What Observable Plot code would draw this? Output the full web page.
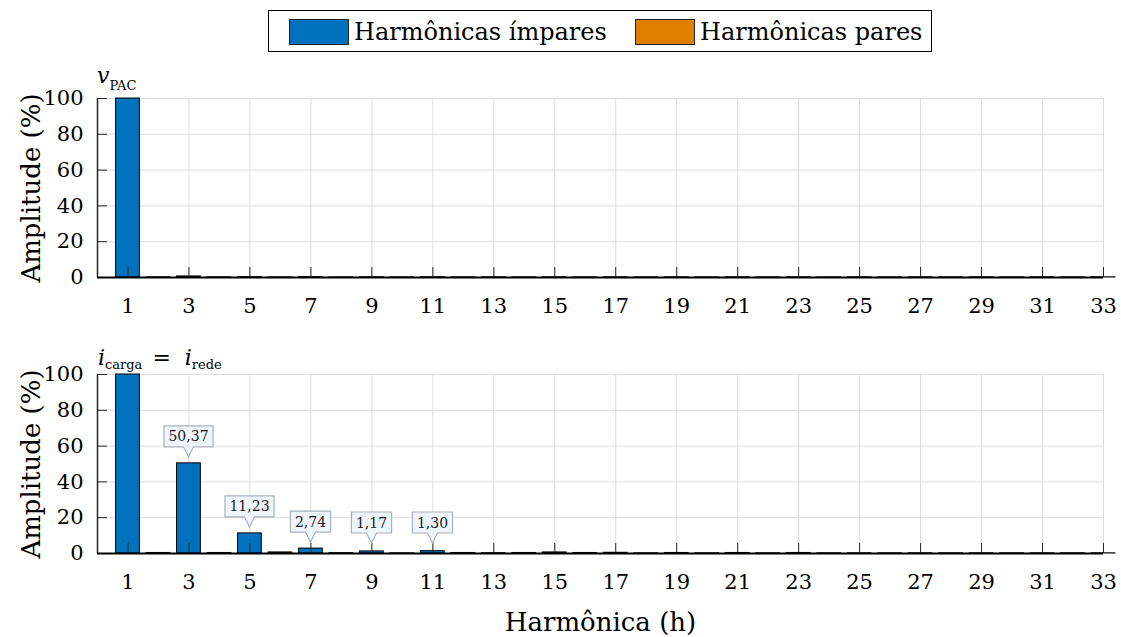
<!DOCTYPE html>
<html>
<head>
<meta charset="utf-8">
<script src="https://cdn.jsdelivr.net/npm/d3@7"></script>
<script src="https://cdn.jsdelivr.net/npm/@observablehq/plot@0.6"></script>
<style>
  html, body { margin: 0; padding: 0; background: #fff; }
  #chart { position: relative; width: 1121px; height: 637px; font-family: "DejaVu Serif", serif; }
  #chart svg { position: absolute; left: 0; overflow: visible; }
  #legend { position: absolute; left: 268px; top: 10px; width: 662px; height: 40px; border: 1px solid #000; background: #fff; font-size: 24px; }
  #legend .sw { position: absolute; top: 8px; width: 58px; height: 24px; border: 1px solid #222; }
  #legend .lb { position: absolute; top: 6px; line-height: 30px; white-space: nowrap; }
</style>
</head>
<body>
<div id="chart">
  <div id="legend">
    <div class="sw" id="sw-odd" style="left:20px"></div>
    <div class="lb" id="lb-odd" style="left:85px"></div>
    <div class="sw" id="sw-even" style="left:366px"></div>
    <div class="lb" id="lb-even" style="left:431px"></div>
  </div>
</div>
<script>
// Harmonic orders shown on the x axis
const harmonics = [1, 2, 3, 4, 5, 6, 7, 8, 9, 10, 11, 12, 13, 14, 15, 16, 17,
                   18, 19, 20, 21, 22, 23, 24, 25, 26, 27, 28, 29, 30, 31, 32, 33];
const xTicks = [1, 3, 5, 7, 9, 11, 13, 15, 17, 19, 21, 23, 25, 27, 29, 31, 33];
const yTicks = [0, 20, 40, 60, 80, 100];

// Harmonic spectrum of the PCC voltage (% of fundamental)
const vPacAmp = [100, 0.1, 0.6, 0.1, 0.2, 0.05, 0.2, 0.05, 0.15, 0.05, 0.15,
                 0.05, 0.1, 0.05, 0.1, 0.05, 0.1, 0.05, 0.1, 0.05, 0.1, 0.05,
                 0.1, 0.05, 0.1, 0.05, 0.1, 0.05, 0.1, 0.05, 0.1, 0.05, 0.1];

// Harmonic spectrum of the load (= grid) current (% of fundamental)
const iRedeAmp = [100, 0.3, 50.37, 0.3, 11.23, 0.6, 2.74, 0.2, 1.17, 0.1, 1.30,
                  0.3, 0.15, 0.3, 0.6, 0.3, 0.4, 0.1, 0.3, 0.1, 0.3, 0.1,
                  0.3, 0.1, 0.1, 0.1, 0.1, 0.1, 0.1, 0.1, 0.1, 0.1, 0.1];

// Harmonics whose amplitude is called out in the current spectrum
const calloutHarmonics = [3, 5, 7, 9, 11];

const legendLabels = ["Harmônicas ímpares", "Harmônicas pares"];
const yLabel = "Amplitude (%)";
const xLabel = "Harmônica (h)";

const BLUE = "#0072BD";
const ORANGE = "#DF7F00";
const FONT = "DejaVu Serif";

document.getElementById("sw-odd").style.background = BLUE;
document.getElementById("sw-even").style.background = ORANGE;
document.getElementById("lb-odd").textContent = legendLabels[0];
document.getElementById("lb-even").textContent = legendLabels[1];

const fmt = v => v.toFixed(2).replace(".", ",");

const X_DOMAIN = [0, 33];
const Y_DOMAIN = [0, 100];
const PLOT_W = 1121 - 97 - 18;
const PLOT_H = 179;
const TICK_PX = 10;
// tick length expressed in data units of each axis
const xTickLen = (X_DOMAIN[1] - X_DOMAIN[0]) * TICK_PX / PLOT_W;
const yTickLen = (Y_DOMAIN[1] - Y_DOMAIN[0]) * TICK_PX / PLOT_H;

// value callouts: a light box with a small pointer above each bar
function drawCallouts(svg, notes) {
  const sx = svg.scale("x"), sy = svg.scale("y");
  const y0 = sy.apply(0);
  const g = d3.select(svg).append("g").attr("class", "callouts");
  for (const n of notes) {
    const cx = Math.round(sx.apply(n.h)) + 0.5;
    const tipY = Math.min(sy.apply(n.v) - 6, y0 - 10);
    const bottom = tipY - 10, top = bottom - 21;
    const item = g.append("g");
    const path = item.append("path");
    const text = item.append("text")
      .attr("x", cx).attr("y", (top + bottom) / 2).attr("dy", "0.36em")
      .attr("text-anchor", "middle").attr("font-family", FONT)
      .attr("font-size", 14).attr("fill", "#1a1a1a").text(n.label);
    const w = text.node().getComputedTextLength() + 9;
    const l = cx - w / 2, r = cx + w / 2;
    path.attr("d", `M${cx},${tipY}L${cx - 5},${bottom}H${l}V${top}H${r}V${bottom}H${cx + 5}Z`)
      .attr("fill", "#eef5fd").attr("stroke", "#a9b1bb").attr("stroke-width", 1.2);
  }
}

function panel({values, offsetTop, marginTop, marginBottom, callouts, showXLabel}) {
  const data = harmonics.map((h, i) => ({h, v: values[i], fill: h % 2 === 1 ? BLUE : ORANGE}));
  const marks = [
    Plot.gridX(xTicks, {stroke: "#dddddd", strokeOpacity: 1, strokeWidth: 1}),
    Plot.gridY(yTicks, {stroke: "#dddddd", strokeOpacity: 1, strokeWidth: 1}),
    Plot.rectY(data, {
      x1: d => d.h - 0.39, x2: d => d.h + 0.39, y: "v",
      fill: "fill", stroke: "#000", strokeWidth: 1
    }),
    // inward-pointing tick marks
    Plot.ruleX(xTicks, {x: d => d, y1: Y_DOMAIN[0], y2: Y_DOMAIN[0] + yTickLen, stroke: "#262626", strokeWidth: 1}),
    Plot.ruleY(yTicks, {y: d => d, x1: X_DOMAIN[0], x2: X_DOMAIN[0] + xTickLen, stroke: "#262626", strokeWidth: 1}),
    // tick labels
    Plot.axisX({ticks: xTicks, tickSize: 0, tickPadding: 21, fontSize: 21, label: null}),
    Plot.axisY({ticks: yTicks, tickSize: 0, tickPadding: 14, fontSize: 21, label: null}),
    Plot.ruleX([0], {stroke: "#262626", strokeWidth: 1.5}),
    Plot.ruleY([0], {stroke: "#000", strokeWidth: 2}),
    Plot.text([yLabel], {frameAnchor: "left", textAnchor: "middle", rotate: -90, dx: -66, fontSize: 26})
  ];
  if (showXLabel) {
    marks.push(Plot.text([xLabel], {frameAnchor: "bottom", dy: 77, fontSize: 26}));
  }
  const svg = Plot.plot({
    width: 1121,
    height: marginTop + PLOT_H + marginBottom,
    marginLeft: 97, marginRight: 18, marginTop, marginBottom,
    style: {fontFamily: FONT, fontSize: "21px", color: "#000", background: "transparent", overflow: "visible"},
    x: {domain: X_DOMAIN, axis: null},
    y: {domain: Y_DOMAIN, axis: null},
    color: {type: "identity"},
    marks
  });
  svg.style.top = offsetTop + "px";
  document.getElementById("chart").appendChild(svg);
  if (callouts) {
    drawCallouts(svg, callouts.map(h => ({h, v: values[h - 1], label: fmt(values[h - 1])})));
  }
  return svg;
}

// upper panel: PCC voltage
const upperSvg = panel({values: vPacAmp, offsetTop: 55, marginTop: 43, marginBottom: 45});
const t1 = d3.select(upperSvg).append("text").attr("x", 97).attr("y", 28)
  .attr("text-anchor", "start").attr("font-family", FONT).attr("fill", "#000");
t1.append("tspan").attr("font-style", "italic").attr("font-size", 22).text("v");
t1.append("tspan").attr("font-size", 13).attr("dy", 7).text("PAC");

// lower panel: load and grid current
const lowerSvg = panel({values: iRedeAmp, offsetTop: 322, marginTop: 52, marginBottom: 84, callouts: calloutHarmonics, showXLabel: true});
const t2 = d3.select(lowerSvg).append("text").attr("x", 98).attr("y", 43)
  .attr("text-anchor", "start").attr("font-family", FONT).attr("fill", "#000");
t2.append("tspan").attr("font-style", "italic").attr("font-size", 22).text("i");
t2.append("tspan").attr("font-size", 13).attr("dy", 4).text("carga");
t2.append("tspan").attr("font-size", 22).attr("dy", -4).attr("dx", 10).text("=");
t2.append("tspan").attr("font-style", "italic").attr("font-size", 22).attr("dx", 14).text("i");
t2.append("tspan").attr("font-size", 13).attr("dy", 4).text("rede");
</script>
</body>
</html>
